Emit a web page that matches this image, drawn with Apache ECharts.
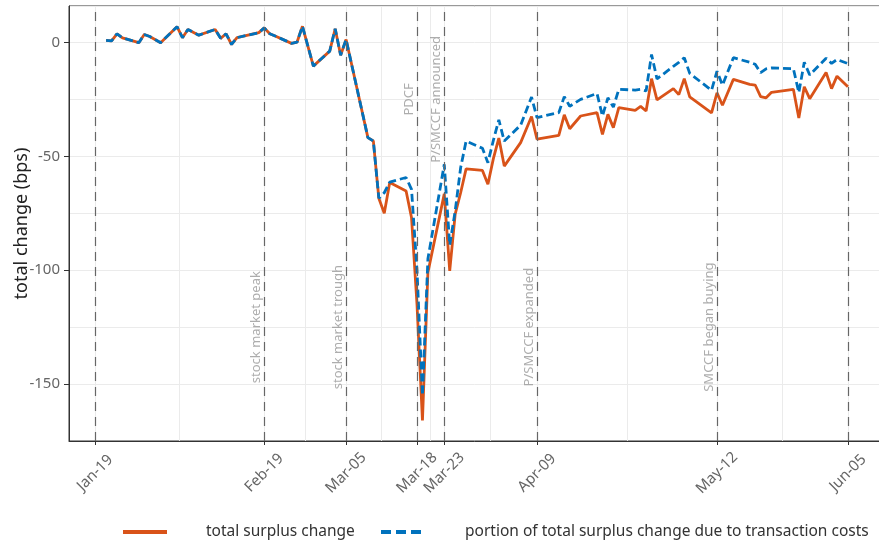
<!DOCTYPE html>
<html><head><meta charset="utf-8">
<script src="https://cdn.jsdelivr.net/npm/echarts@6/dist/echarts.min.js"></script>
<style>html,body{margin:0;padding:0;background:#fff}#c{width:879px;height:541px}</style>
</head><body><div id="c"></div>
<script>
const YEAR = 2020;
const dates = ['01-21','01-22','01-23','01-24','01-27','01-28','01-29','01-31','02-03','02-04',
  '02-05','02-07','02-10','02-11','02-12','02-13','02-14','02-18','02-19','02-20',
  '02-21','02-24','02-25','02-26','02-28','03-02','03-03','03-04','03-05','03-09',
  '03-10','03-11','03-12','03-13','03-16','03-17','03-18','03-19','03-20','03-23',
  '03-24','03-25','03-26','03-27','03-30','03-31','04-01','04-02','04-03','04-06',
  '04-08','04-09','04-13','04-14','04-15','04-17','04-20','04-21','04-22','04-23',
  '04-24','04-27','04-28','04-29','04-30','05-01','05-04','05-05','05-06','05-07',
  '05-11','05-12','05-13','05-15','05-18','05-19','05-20','05-21','05-22','05-26',
  '05-27','05-28','05-29','06-01','06-02','06-03','06-05'];
const totalSurplusChange = [0.9,0.7,3.8,2.0,-0.1,3.5,2.6,-0.1,6.9,2.1,
  5.7,3.2,5.7,1.8,3.8,-0.9,2.1,4.3,6.4,3.8,
  2.8,-0.4,0.1,7.1,-10.4,-3.8,6.0,-5.6,1.3,-41.8,
  -43.3,-68.4,-75.0,-61.5,-65.2,-77.0,-115.0,-166.0,-101.0,-66.5,
  -100.3,-75.4,-66.0,-55.5,-56.2,-62.3,-51.0,-42.0,-54.3,-44.0,
  -32.5,-42.5,-40.8,-31.8,-37.9,-32.3,-30.8,-40.4,-31.6,-37.4,
  -28.6,-29.8,-28.1,-30.1,-15.9,-25.2,-20.3,-22.9,-15.9,-23.9,
  -30.9,-22.1,-27.6,-16.2,-18.4,-18.7,-23.8,-24.3,-21.9,-20.6,
  -33.2,-19.5,-24.7,-13.2,-20.3,-14.8,-19.5];
const transactionCostChange = [0.9,0.7,3.8,2.0,-0.1,3.5,2.6,-0.1,6.9,2.1,
  5.7,3.2,5.7,1.8,3.8,-0.9,2.1,4.3,6.4,3.8,
  2.8,-0.4,0.1,7.1,-10.4,-3.8,6.0,-5.6,1.3,-41.8,
  -43.3,-68.4,-66.0,-61.3,-59.3,-64.5,-100.0,-155.0,-95.0,-53.5,
  -89.0,-74.0,-55.0,-43.3,-46.5,-52.8,-43.0,-34.0,-43.3,-36.3,
  -24.0,-33.0,-30.8,-23.8,-28.0,-25.0,-22.4,-32.3,-24.3,-28.4,
  -20.6,-20.9,-20.6,-21.3,-5.3,-16.0,-10.5,-8.8,-6.7,-13.6,
  -21.0,-12.6,-18.8,-6.7,-8.7,-9.6,-13.3,-11.6,-11.2,-11.5,
  -22.0,-8.7,-14.3,-6.9,-9.2,-7.5,-9.3];
const eventDates = ['01-19','02-19','03-05','03-18','03-23','04-09','05-12','06-05'];
const tickLabels = ['Jan-19','Feb-19','Mar-05','Mar-18','Mar-23','Apr-09','May-12','Jun-05'];
const eventNames = ['','stock market peak','stock market trough','PDCF','P/SMCCF announced','P/SMCCF expanded','SMCCF began buying',''];
const eventLabelY = [null,-125,-125,-25,-25,-125,-125,null];
const yTicks = [0,-50,-100,-150];
const seriesNames = ['total surplus change','portion of total surplus change due to transaction costs'];

function dayOf(md){ const p = md.split('-').map(Number); return Math.round((Date.UTC(YEAR,p[0]-1,p[1]) - Date.UTC(YEAR,0,1))/864e5); }
const eventDays = eventDates.map(dayOf);
const midDays = eventDays.slice(1).map((d,i)=>(d+eventDays[i])/2);
const X_MIN = 13.2, X_MAX = 162.8, Y_MIN = -175, Y_MAX = 16;
const FONT = "'Noto Sans', sans-serif";
const ORANGE = '#D95319', BLUE = '#0072BD';

const legendBase = {top:524, padding:0, itemWidth:44, itemHeight:14, selectedMode:false,
  textStyle:{fontSize:15.5, color:'#333', fontFamily:FONT}};

const chart = echarts.init(document.getElementById('c'), null, {renderer:'canvas'});
chart.setOption({
  animation:false,
  textStyle:{fontFamily:FONT},
  grid:{left:69, right:-6, top:6, bottom:100, show:true, borderColor:'#333', borderWidth:1,
        backgroundColor:'transparent', containLabel:false, outerBoundsMode:'none'},
  xAxis:[
    {type:'value', min:X_MIN, max:X_MAX,
     axisLine:{show:true, onZero:false, lineStyle:{color:'#333', width:1}},
     axisTick:{show:true, length:4, customValues:eventDays, lineStyle:{color:'#333'}},
     axisLabel:{customValues:eventDays, rotate:45, align:'center', verticalAlign:'middle', margin:32, fontSize:15, color:'#666', fontFamily:FONT,
       formatter:v=>{const i=eventDays.indexOf(Math.round(v)); return i>=0?tickLabels[i]:'';}},
     splitLine:{show:true, lineStyle:{color:'#ebebeb', width:1}}},
    {type:'value', min:X_MIN, max:X_MAX, position:'bottom',
     axisLine:{show:false}, axisLabel:{show:false}, axisTick:{show:false, customValues:midDays},
     splitLine:{show:true, lineStyle:{color:'#ebebeb', width:1}}}
  ],
  yAxis:[
    {type:'value', min:Y_MIN, max:Y_MAX, position:'left',
     name:'total change (bps)', nameLocation:'middle', nameGap:38, nameMoveOverlap:false,
     nameTextStyle:{fontSize:18, color:'#222', fontFamily:FONT},
     axisLine:{show:true, onZero:false, lineStyle:{color:'#333', width:1}},
     axisTick:{show:true, length:5, customValues:yTicks, lineStyle:{color:'#333'}},
     axisLabel:{customValues:yTicks, margin:9, fontSize:15, color:'#666', fontFamily:FONT},
     splitLine:{show:false}},
    {type:'value', min:Y_MIN, max:Y_MAX, interval:25, position:'left',
     axisLine:{show:false}, axisTick:{show:false}, axisLabel:{show:false},
     splitLine:{show:true, lineStyle:{color:'#ebebeb', width:1}}}
  ],
  legend:[
    Object.assign({}, legendBase, {left:121,
      data:[{name:seriesNames[0], lineStyle:{width:4}, itemStyle:{opacity:0},
             textStyle:{padding:[0,0,0,34]}}]}),
    Object.assign({}, legendBase, {left:379,
      data:[{name:seriesNames[1], lineStyle:{width:4, type:[10,5]}, itemStyle:{opacity:0},
             textStyle:{padding:[0,0,0,35]}}]})
  ],
  series:[
    {name:seriesNames[0], type:'line', xAxisIndex:0, yAxisIndex:0, symbol:'none', z:3,
     data:dates.map((d,i)=>[dayOf(d), totalSurplusChange[i]]),
     lineStyle:{color:ORANGE, width:2.8}, itemStyle:{color:ORANGE},
     markLine:{silent:true, symbol:'none', label:{show:false}, animation:false,
       lineStyle:{color:'#666', type:[9,6], width:1.2},
       data:eventDays.map(d=>({xAxis:d}))}},
    {name:seriesNames[1], type:'line', xAxisIndex:0, yAxisIndex:0, symbol:'none', z:4,
     data:dates.map((d,i)=>[dayOf(d), transactionCostChange[i]]),
     lineStyle:{color:BLUE, width:2.8, type:[8,4]}, itemStyle:{color:BLUE}},
    {type:'scatter', xAxisIndex:0, yAxisIndex:0, symbolSize:0, silent:true, z:5,
     data:eventNames.map((n,i)=>({name:n, value:[eventDays[i], eventLabelY[i]]})).filter((o,i)=>eventNames[i]!==''),
     label:{show:true, position:'inside', rotate:90, align:'center', verticalAlign:'bottom',
       formatter:'{b}', color:'#999', fontSize:13, fontFamily:FONT, padding:[0,0,1,0]}}
  ]
});
</script></body></html>
